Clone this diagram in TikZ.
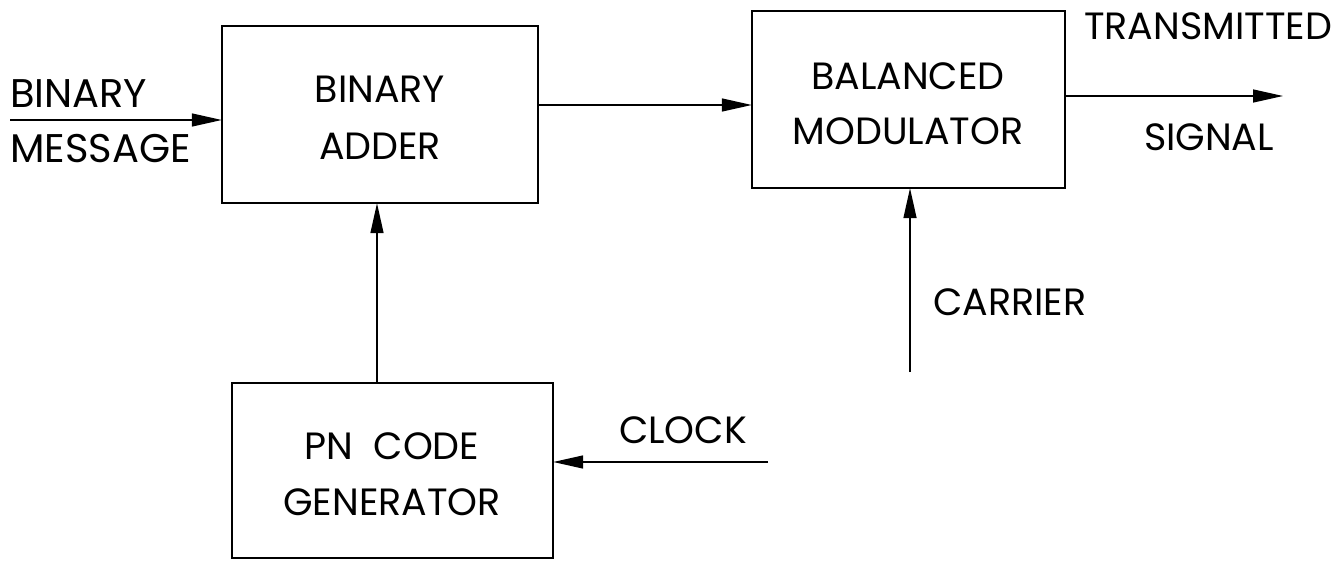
\documentclass[tikz,border=0pt]{standalone}
\usepackage{fontspec}
\setmainfont{Poppins}
\usetikzlibrary{arrows.meta}
\begin{document}
\begin{tikzpicture}[x=1pt,y=-1pt,
  blk/.style={draw,line width=1.4pt,inner sep=0pt},
  lbl/.style={font=\fontsize{38}{56}\selectfont,align=center,inner sep=0pt},
  hand/.style={font=\fontsize{40}{56}\selectfont,inner sep=0pt,anchor=west},
  conn/.style={line width=1.4pt,-{Triangle[length=30pt,width=13pt]}}]
\useasboundingbox (0,0) rectangle (1340,561);
% blocks
\draw[blk] (222,26) rectangle (538,203);
\node[minimum width=316pt,minimum height=177pt] (adder) at (380,114.5) {};
\draw[blk] (752,11) rectangle (1065,188);
\node[minimum width=313pt,minimum height=177pt] (mod) at (908.5,99.5) {};
\draw[blk] (232,383) rectangle (553,558);
\node[minimum width=321pt,minimum height=175pt] (pn) at (392.5,470.5) {};
% texts
\node[lbl] (t1) at (380,89) {BINARY};
\node[lbl] (t2) at (380,146) {ADDER};
\node[lbl] (t3) at (908,76) {BALANCED};
\node[lbl] (t4) at (908,131) {MODULATOR};
\node[lbl] (t5) at (392,446) {PN\ \ CODE};
\node[lbl] (t6) at (392,502) {GENERATOR};
\node[hand] (t7) at (10,94) {BINARY};
\node[hand] (t8) at (10,149) {MESSAGE};
\node[lbl] (t9) at (1208,26) {TRANSMITTED};
\node[lbl] (t10) at (1209,137) {SIGNAL};
\node[lbl] (t11) at (1010,302) {CARRIER};
\node[lbl] (t12) at (683,430) {CLOCK};
% connectors
\coordinate (msgin) at (10,120);
\coordinate (mid) at (0,105);
\coordinate (outend) at (1283,96);
\coordinate (carin) at (910,372);
\coordinate (clkin) at (768,462);
\coordinate (pnx) at (377,0);
\draw[conn] (msgin) -- (adder.west |- msgin);
\draw[conn] (adder.east |- mid) -- (mod.west |- mid);
\draw[conn] (mod.east |- outend) -- (outend);
\draw[conn] (pn.north -| pnx) -- (adder.south -| pnx);
\draw[conn] (carin) -- (mod.south -| carin);
\draw[conn] (clkin) -- (pn.east |- clkin);
\end{tikzpicture}
\end{document}
